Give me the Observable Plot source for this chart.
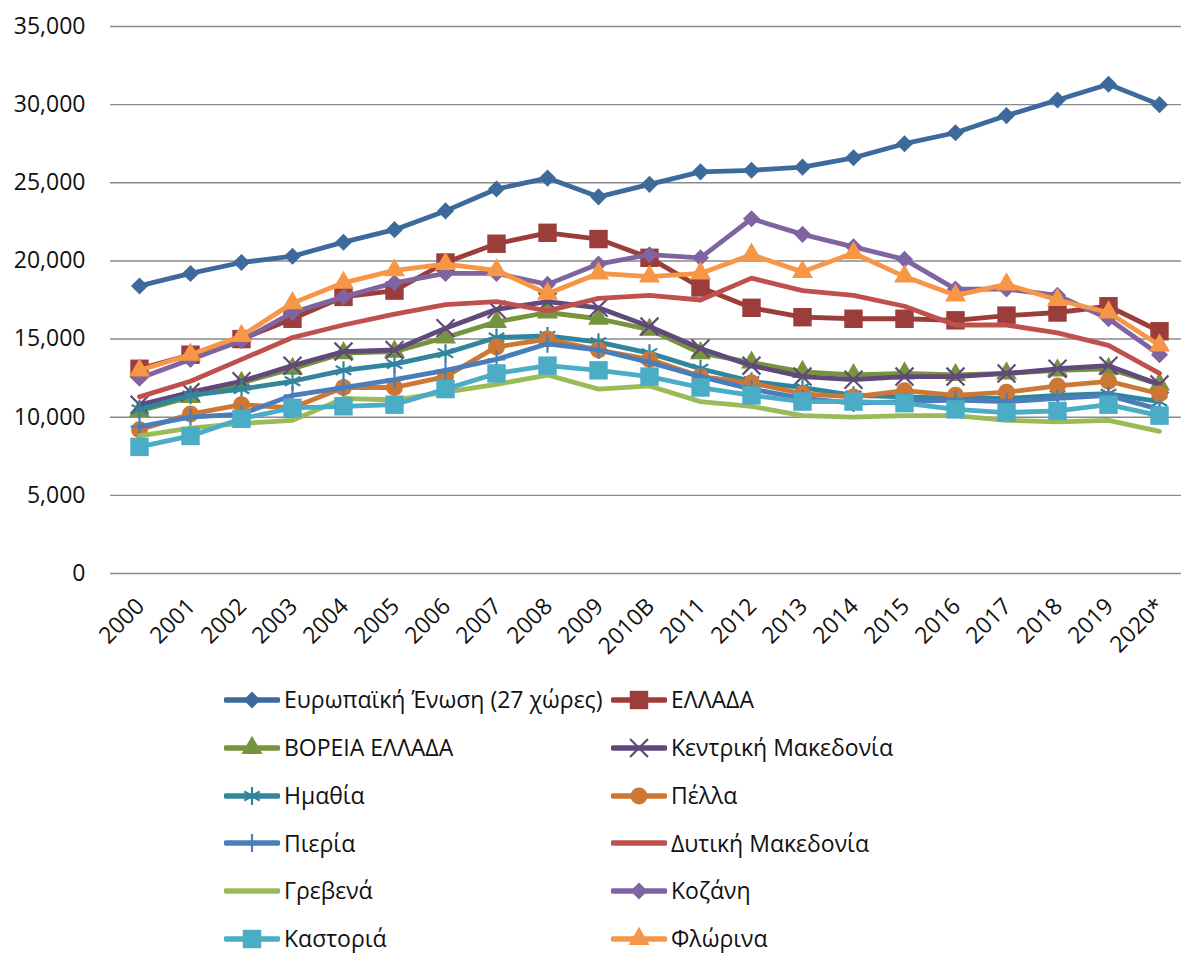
<!DOCTYPE html>
<html><head><meta charset="utf-8">
<script src="https://cdn.jsdelivr.net/npm/d3@7"></script>
<script src="https://cdn.jsdelivr.net/npm/@observablehq/plot@0.6"></script>
<style>
html,body{margin:0;padding:0;background:#fff;overflow:hidden;}
#wrap{position:relative;width:1181px;height:956px;font-family:"Open Sans","Noto Sans",sans-serif;}
.leg{position:absolute;display:flex;align-items:center;height:28px;line-height:1.2;font-size:23px;color:#111;white-space:nowrap;}
.leg svg{display:block;margin-right:4px;}
</style></head><body><div id="wrap"></div>
<script>
// ---- data ----
const years = ["2000","2001","2002","2003","2004","2005","2006","2007","2008","2009","2010B","2011","2012","2013","2014","2015","2016","2017","2018","2019","2020*"];
const seriesNames = ["Ευρωπαϊκή Ένωση (27 χώρες)","ΕΛΛΑΔΑ","ΒΟΡΕΙΑ ΕΛΛΑΔΑ","Κεντρική Μακεδονία","Ημαθία","Πέλλα","Πιερία","Δυτική Μακεδονία","Γρεβενά","Κοζάνη","Καστοριά","Φλώρινα"];
const eu27      = [18400,19200,19900,20300,21200,22000,23200,24600,25300,24100,24900,25700,25800,26000,26600,27500,28200,29300,30300,31300,30000];
const greece    = [13100,14000,15000,16300,17700,18100,19900,21100,21800,21400,20200,18300,17000,16400,16300,16300,16200,16500,16700,17100,15500];
const northGr   = [10400,11300,12200,13100,14100,14200,15100,16100,16700,16300,15600,14100,13500,12900,12700,12800,12700,12800,13000,13100,12100];
const centralMk = [10800,11600,12300,13300,14200,14300,15700,16900,17400,17000,15800,14400,13300,12600,12400,12600,12600,12800,13100,13300,12100];
const imathia   = [10500,11400,11800,12300,13000,13400,14100,15100,15200,14800,14100,13100,12300,11900,11400,11300,11200,11200,11400,11500,11000];
const pella     = [9200,10200,10800,10600,11900,11900,12600,14500,15000,14300,13700,12600,12200,11500,11300,11700,11400,11600,12000,12300,11500];
const pieria    = [9400,10000,10200,11400,11900,12400,13000,13700,14700,14300,13500,12600,11800,11200,10900,11000,11100,11000,11200,11400,10500];
const westMk    = [11300,12300,13700,15100,15900,16600,17200,17400,16800,17600,17800,17500,18900,18100,17800,17100,15900,15900,15400,14600,12800];
const grevena   = [8800,9300,9600,9800,11200,11100,11600,12100,12700,11800,12000,11000,10700,10100,10000,10100,10100,9800,9700,9800,9100];
const kozani    = [12500,13700,14900,16700,17700,18600,19200,19200,18500,19800,20400,20200,22700,21700,20900,20100,18200,18200,17800,16300,14000];
const kastoria  = [8100,8800,9900,10600,10700,10800,11800,12800,13300,13000,12600,11900,11400,11000,11000,10900,10500,10300,10400,10800,10100];
const florina   = [13000,14000,15200,17300,18600,19400,19800,19400,17900,19200,19000,19200,20400,19300,20500,19000,17800,18500,17500,16700,14600];
const seriesValues = [eu27,greece,northGr,centralMk,imathia,pella,pieria,westMk,grevena,kozani,kastoria,florina];
const yTicks = [0,5000,10000,15000,20000,25000,30000,35000];

// ---- styles ----
const styles = [
  {color:"#3D6A9C", symbol:"diamond2", r:7.7, filled:true},
  {color:"#9B3D3A", symbol:"square", r:10.4, filled:true},
  {color:"#77933C", symbol:"triangle", r:7.8, filled:true},
  {color:"#604A7B", symbol:"times", r:8.2, filled:false},
  {color:"#31859C", symbol:"asterisk", r:8.5, filled:false},
  {color:"#CC7733", symbol:"circle", r:8.5, filled:true},
  {color:"#4A7EBB", symbol:"plus", r:5.8, filled:false},
  {color:"#C0504D", symbol:null},
  {color:"#9BBB59", symbol:null},
  {color:"#8064A2", symbol:"diamond2", r:7.7, filled:true},
  {color:"#4BACC6", symbol:"square", r:10.4, filled:true},
  {color:"#F79646", symbol:"triangle", r:7.8, filled:true}
];

const table = seriesNames.flatMap((name, i) => seriesValues[i].map((v, j) => ({series:name, year:years[j], value:v})));

const marks = [
  Plot.gridY(yTicks, {stroke:"#8a8a8a", strokeOpacity:1, strokeWidth:1.4}),
  Plot.axisY(yTicks, {tickSize:0, tickPadding:25, tickFormat:d3.format(","), fontSize:23, fill:"#111", label:null}),
  Plot.text(years, {x:d=>d, frameAnchor:"bottom", dy:29, dx:1, rotate:-45, textAnchor:"end", lineAnchor:"middle", fontSize:23, fill:"#111"})
];
seriesNames.forEach((name, i) => {
  const st = styles[i];
  const rows = table.filter(d => d.series === name);
  marks.push(Plot.line(rows, {x:"year", y:"value", stroke:st.color, strokeWidth:4.8, strokeLinejoin:"round", strokeLinecap:"round"}));
  if (st.symbol) {
    marks.push(Plot.dot(rows, st.filled
      ? {x:"year", y:"value", symbol:()=>st.symbol, r:st.r, fill:st.color, stroke:"none"}
      : {x:"year", y:"value", symbol:()=>st.symbol, r:st.r, fill:"none", stroke:st.color, strokeWidth:2.2}));
  }
});

const chart = Plot.plot({
  width:1181, height:660,
  marginLeft:110, marginRight:0, marginTop:26, marginBottom:87,
  style:{fontFamily:'"Open Sans","Noto Sans",sans-serif', background:"#fff", overflow:"visible"},
  x:{type:"point", domain:years, range:[135,1163], padding:0, axis:null},
  y:{domain:[0,35000], axis:null},
  symbol:{type:"identity"},
  marks
});
const wrap = document.getElementById("wrap");
wrap.appendChild(chart);

// ---- legend ----
const symMap = {diamond2:d3.symbolDiamond2, square:d3.symbolSquare, triangle:d3.symbolTriangle, times:d3.symbolTimes, asterisk:d3.symbolAsterisk, circle:d3.symbolCircle, plus:d3.symbolPlus};
const colX = [224, 611];
seriesNames.forEach((name, i) => {
  const st = styles[i];
  const row = Math.floor(i/2), col = i % 2;
  const div = document.createElement("div");
  div.className = "leg";
  div.style.left = colX[col] + "px";
  div.style.top = (700 + row*47.8 - 14) + "px";
  const svg = d3.create("svg").attr("width",56).attr("height",28);
  svg.append("line").attr("x1",2).attr("x2",54).attr("y1",14).attr("y2",14)
    .attr("stroke",st.color).attr("stroke-width",5.5).attr("stroke-linecap","round");
  if (st.symbol) {
    const p = d3.symbol(symMap[st.symbol], Math.PI*st.r*st.r)();
    const path = svg.append("path").attr("d",p).attr("transform","translate(28,14)");
    if (st.filled) path.attr("fill",st.color);
    else path.attr("fill","none").attr("stroke",st.color).attr("stroke-width",2.2);
  }
  div.appendChild(svg.node());
  const span = document.createElement("span");
  span.textContent = name;
  div.appendChild(span);
  wrap.appendChild(div);
});
</script></body></html>
